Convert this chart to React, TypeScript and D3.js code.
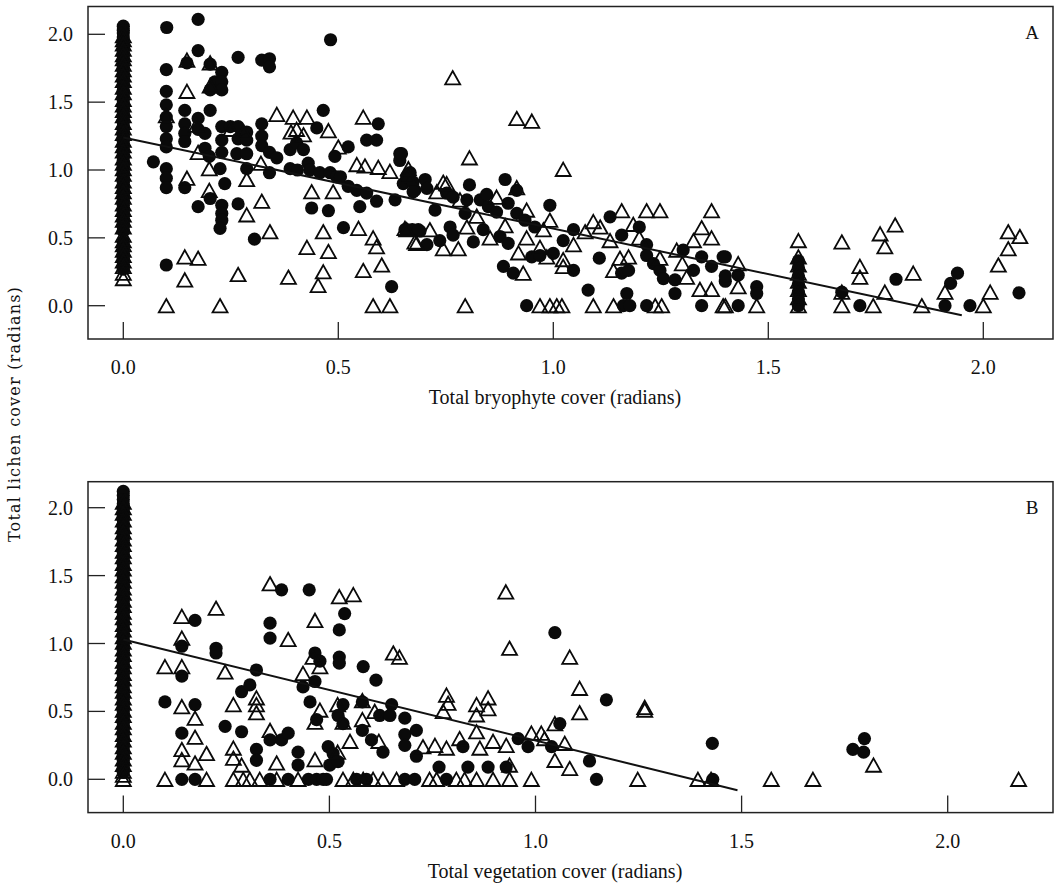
import React from "react";
import * as d3 from "d3";

// tick values shared by both panels
const tickValues = [0, 0.5, 1.0, 1.5, 2.0];

// ---- Panel A: lichen vs bryophyte cover ----
const bryoCircles: [number, number][] = [
  [0.101, 2.05], [0.174, 2.11], [0.482, 1.96], [0.174, 1.88], [0.10, 1.74], [0.267, 1.83], [0.322, 1.81], [0.34, 1.82], [0.34, 1.76],
  [0.229, 1.72], [0.213, 1.65], [0.229, 1.65], [0.202, 1.59], [0.229, 1.59], [0.148, 1.79], [0.202, 1.78],
  [0.10, 1.58], [0.10, 1.48], [0.10, 1.39], [0.10, 1.32], [0.10, 1.23], [0.10, 1.17], [0.10, 1.01], [0.10, 0.94], [0.10, 0.87], [0.07, 1.06],
  [0.143, 1.44], [0.143, 1.34], [0.143, 1.27], [0.143, 1.21], [0.143, 0.87], [0.174, 1.38], [0.174, 1.30],
  [0.202, 1.44], [0.19, 1.27], [0.19, 1.16], [0.2, 1.1], [0.229, 1.32], [0.229, 1.22], [0.229, 1.13], [0.225, 1.01], [0.236, 0.90],
  [0.174, 0.73], [0.202, 0.79], [0.229, 0.74], [0.229, 0.68], [0.229, 0.63], [0.225, 0.57], [0.267, 0.75], [0.10, 0.30], [0.305, 0.49],
  [0.249, 1.32], [0.267, 1.32], [0.267, 1.23], [0.287, 1.28], [0.287, 1.22], [0.264, 1.12], [0.287, 1.12], [0.287, 1.01],
  [0.322, 1.34], [0.322, 1.25], [0.322, 1.18], [0.34, 1.13], [0.34, 0.98],
  [0.357, 1.09], [0.388, 1.15], [0.403, 1.20], [0.419, 1.15], [0.388, 1.01], [0.405, 1.0], [0.43, 1.05], [0.434, 1.0], [0.45, 1.31], [0.465, 1.44], [0.457, 0.98],
  [0.438, 0.72], [0.477, 0.70], [0.512, 0.575], [0.523, 1.17], [0.492, 1.10], [0.481, 0.98], [0.496, 0.95], [0.505, 0.95], [0.523, 0.88], [0.543, 0.85],
  [0.566, 1.22], [0.589, 1.22], [0.593, 1.34], [0.643, 1.12], [0.643, 1.07], [0.624, 0.14],
  [0.566, 0.83], [0.55, 0.73], [0.589, 0.77], [0.632, 0.78], [0.651, 0.90], [0.667, 0.98], [0.678, 0.85], [0.655, 0.56], [0.672, 0.56], [0.69, 0.55],
  [0.647, 1.12], [0.659, 0.95], [0.674, 0.91], [0.702, 0.93], [0.706, 0.865], [0.674, 0.84], [0.725, 0.705],
  [0.752, 0.83], [0.767, 0.80], [0.805, 0.89], [0.799, 0.78], [0.795, 0.68], [0.83, 0.78], [0.845, 0.82], [0.849, 0.73], [0.868, 0.69],
  [0.888, 0.93], [0.915, 0.85], [0.895, 0.755], [0.915, 0.68], [0.934, 0.63], [0.957, 0.58], [0.992, 0.74],
  [0.659, 0.56], [0.686, 0.56], [0.706, 0.45], [0.736, 0.48], [0.76, 0.58], [0.767, 0.52], [0.814, 0.47], [0.837, 0.56], [0.876, 0.51], [0.895, 0.46],
  [0.884, 0.29], [0.907, 0.24], [0.95, 0.36], [0.969, 0.37], [1.0, 0.385], [1.047, 0.26], [1.023, 0.48], [1.047, 0.56],
  [0.938, 0.0], [1.081, 0.115], [1.132, 0.655], [1.159, 0.52], [1.107, 0.35],
  [1.2, 0.58], [1.217, 0.45], [1.217, 0.37], [1.233, 0.31], [1.248, 0.26], [1.256, 0.20],
  [1.159, 0.24], [1.175, 0.26], [1.171, 0.09], [1.163, 0.0], [1.178, 0.0], [1.217, 0.0],
  [1.283, 0.19], [1.283, 0.09], [1.302, 0.41], [1.326, 0.26], [1.345, 0.36], [1.368, 0.29], [1.395, 0.36], [1.40, 0.18], [1.345, 0.0],
  [1.40, 0.36], [1.43, 0.225], [1.40, 0.22], [1.43, 0.0], [1.473, 0.14], [1.473, 0.09],
  [1.57, 0.33], [1.57, 0.28], [1.57, 0.22], [1.57, 0.16], [1.57, 0.10], [1.57, 0.05], [1.57, 0.0],
  [1.713, 0.0], [1.671, 0.10], [1.797, 0.195], [1.911, 0.0], [1.924, 0.165], [1.94, 0.24], [1.969, 0.0], [2.083, 0.095],
];

const bryoTriangles: [number, number][] = [
  [0.148, 1.81], [0.202, 1.79], [0.202, 1.62], [0.148, 1.58], [0.10, 1.40], [0.17, 1.33], [0.174, 1.13], [0.2, 1.01], [0.148, 0.94], [0.2, 0.85],
  [0.357, 1.41], [0.395, 1.39], [0.427, 1.39], [0.39, 1.28], [0.403, 1.30], [0.419, 1.26], [0.477, 1.29], [0.558, 1.39], [0.25, 1.30], [0.28, 1.28],
  [0.287, 0.93], [0.322, 0.77], [0.287, 0.67], [0.341, 0.545], [0.267, 0.23], [0.143, 0.36], [0.174, 0.35], [0.143, 0.19], [0.10, 0.0], [0.225, 0.0],
  [0.384, 0.21], [0.427, 0.43], [0.465, 0.545], [0.477, 0.40], [0.465, 0.25], [0.453, 0.15],
  [0.438, 0.84], [0.488, 0.84], [0.547, 0.57], [0.581, 0.50], [0.589, 0.435], [0.558, 0.26], [0.601, 0.30], [0.581, 0.0], [0.62, 0.0],
  [0.655, 0.57], [0.678, 0.47], [0.543, 1.04], [0.562, 1.03], [0.593, 1.02], [0.62, 0.99], [0.66, 0.96], [0.5, 1.17], [0.32, 1.05],
  [0.766, 1.68], [0.915, 1.38], [0.95, 1.36], [0.805, 1.09], [1.023, 1.005], [0.744, 0.91],
  [0.795, 0.0], [0.969, 0.0], [0.992, 0.0], [1.008, 0.0], [1.02, 0.0], [1.093, 0.0], [1.14, 0.0], [1.237, 0.0], [1.252, 0.0], [1.395, 0.0],
  [1.159, 0.70], [1.217, 0.70], [1.248, 0.70], [1.368, 0.70], [1.345, 0.575], [1.368, 0.50], [1.326, 0.48],
  [1.093, 0.62], [1.109, 0.58], [1.074, 0.545], [1.132, 0.48], [1.186, 0.60], [1.2, 0.50],
  [1.155, 0.35], [1.175, 0.36], [1.14, 0.26], [1.248, 0.35], [1.287, 0.41], [1.30, 0.31], [1.341, 0.12], [1.368, 0.12], [1.31, 0.21],
  [1.023, 0.34], [1.023, 0.29], [0.93, 0.24], [0.919, 0.39], [0.938, 0.50], [0.969, 0.43], [0.985, 0.36], [0.992, 0.63], [0.977, 0.56], [1.047, 0.45], [0.938, 0.705],
  [0.868, 0.80], [0.888, 0.59], [0.853, 0.50], [0.822, 0.66], [0.799, 0.58], [0.779, 0.42], [0.744, 0.42], [0.713, 0.56], [0.682, 0.46], [0.659, 0.56],
  [0.729, 0.84], [0.752, 0.90], [0.783, 0.78], [0.663, 1.01], [0.915, 0.87],
  [1.57, 0.48], [1.671, 0.47], [1.76, 0.53], [1.795, 0.595], [1.771, 0.435], [1.713, 0.29], [1.713, 0.21], [1.837, 0.24], [1.771, 0.10],
  [1.43, 0.31], [1.43, 0.14], [1.40, 0.0], [1.473, 0.0], [1.671, 0.0], [1.744, 0.0], [1.857, 0.0], [1.911, 0.10], [2.0, 0.0], [2.016, 0.10],
  [2.035, 0.30], [2.058, 0.42], [2.058, 0.545], [2.085, 0.51], [1.671, 0.10],
  [1.57, 0.36], [1.57, 0.30], [1.57, 0.24], [1.57, 0.18], [1.57, 0.12], [1.57, 0.06], [1.57, 0.0],
];

// samples with zero bryophyte cover (stacked at x = 0)
const bryoZeroCircles = [
  2.06, 2.03, 2.01, 1.98, 1.95, 1.92, 1.90, 1.87, 1.84, 1.81, 1.79, 1.76, 1.73, 1.70, 1.68, 1.65, 1.62, 1.59, 1.57, 1.54, 1.51, 1.48,
  1.46, 1.43, 1.40, 1.37, 1.35, 1.32, 1.29, 1.26, 1.24, 1.21, 1.18, 1.15, 1.13, 1.10, 1.07, 1.04, 1.02, 0.99, 0.96, 0.93, 0.91, 0.88,
  0.85, 0.82, 0.80, 0.77, 0.74, 0.71, 0.69, 0.66, 0.63, 0.60, 0.58, 0.55, 0.47, 0.44, 0.41, 0.38, 0.35, 0.32, 0.29, 0.27,
];
const bryoZeroTriangles = [
  1.99, 1.96, 1.93, 1.89, 1.85, 1.82, 1.78, 1.74, 1.70, 1.66, 1.61, 1.57, 1.52, 1.48, 1.44, 1.40, 1.35, 1.31, 1.27, 1.22, 1.18, 1.14,
  1.09, 1.05, 1.01, 0.97, 0.92, 0.88, 0.84, 0.80, 0.75, 0.71, 0.67, 0.63, 0.58, 0.52, 0.48, 0.45, 0.41, 0.37, 0.33, 0.29, 0.24, 0.20,
];
const bryoFit: [number, number][] = [[0, 1.24], [1.95, -0.07]];

// ---- Panel B: lichen vs vegetation cover ----
const vegCircles: [number, number][] = [
  [0.174, 1.17], [0.142, 0.98], [0.225, 0.965], [0.225, 0.93], [0.142, 0.76], [0.101, 0.57], [0.174, 0.55], [0.142, 0.34], [0.247, 0.39], [0.287, 0.35],
  [0.142, 0.0], [0.174, 0.0], [0.323, 0.805], [0.287, 0.645], [0.307, 0.695], [0.384, 1.395], [0.451, 1.395], [0.356, 1.15], [0.356, 1.04],
  [0.537, 1.22], [0.524, 1.10], [0.524, 0.90], [0.524, 0.855], [0.465, 0.93], [0.477, 0.87], [0.582, 0.83], [0.613, 0.73],
  [0.436, 0.68], [0.453, 0.57], [0.465, 0.72], [0.469, 0.44],
  [0.323, 0.22], [0.323, 0.14], [0.356, 0.29], [0.384, 0.29], [0.40, 0.34], [0.424, 0.20], [0.424, 0.105],
  [0.497, 0.24], [0.509, 0.19], [0.501, 0.105], [0.521, 0.13], [0.533, 0.55], [0.521, 0.47], [0.533, 0.41],
  [0.58, 0.57], [0.58, 0.36], [0.602, 0.29], [0.63, 0.20], [0.622, 0.47], [0.651, 0.55], [0.647, 0.47],
  [0.683, 0.45], [0.683, 0.33], [0.683, 0.25], [0.711, 0.36], [0.711, 0.17],
  [0.356, 0.0], [0.40, 0.0], [0.449, 0.0], [0.469, 0.0], [0.485, 0.0], [0.493, 0.0], [0.566, 0.0], [0.59, 0.0], [0.683, 0.0], [0.707, 0.0],
  [1.047, 1.08], [1.172, 0.585], [1.059, 0.41], [1.429, 0.265],
  [0.766, 0.09], [0.824, 0.24], [0.836, 0.09], [0.885, 0.09], [0.929, 0.09], [0.958, 0.30], [0.982, 0.24], [1.039, 0.24], [1.131, 0.135],
  [1.148, 0.0], [1.43, 0.0], [0.784, 0.0], [1.798, 0.30], [1.77, 0.22], [1.796, 0.20],
];

const vegTriangles: [number, number][] = [
  [0.142, 1.20], [0.225, 1.26], [0.142, 1.04], [0.142, 0.83], [0.101, 0.83], [0.247, 0.79], [0.356, 1.44], [0.40, 1.03], [0.465, 1.17],
  [0.524, 1.345], [0.558, 1.36], [0.655, 0.93], [0.436, 0.78], [0.477, 0.83], [0.46, 0.90],
  [0.142, 0.535], [0.174, 0.45], [0.174, 0.31], [0.142, 0.22], [0.142, 0.145], [0.174, 0.12], [0.202, 0.19],
  [0.267, 0.55], [0.267, 0.23], [0.267, 0.155], [0.287, 0.105], [0.323, 0.60], [0.323, 0.55], [0.323, 0.49], [0.356, 0.36], [0.372, 0.12],
  [0.465, 0.145], [0.477, 0.51], [0.465, 0.42], [0.52, 0.55], [0.533, 0.42], [0.52, 0.20], [0.58, 0.58], [0.58, 0.44], [0.55, 0.28], [0.61, 0.50], [0.62, 0.28],
  [0.101, 0.0], [0.202, 0.0], [0.267, 0.0], [0.291, 0.0], [0.307, 0.0], [0.331, 0.0], [0.372, 0.0], [0.424, 0.0], [0.533, 0.0], [0.558, 0.0],
  [0.582, 0.0], [0.606, 0.0], [0.63, 0.0], [0.663, 0.0],
  [0.928, 1.38], [0.937, 0.965], [1.083, 0.90], [1.107, 0.67], [1.107, 0.49], [1.265, 0.53], [1.265, 0.51], [1.047, 0.41],
  [0.784, 0.62], [0.788, 0.56], [0.776, 0.50], [0.857, 0.55], [0.885, 0.60], [0.885, 0.52], [0.857, 0.475], [0.857, 0.35],
  [0.816, 0.30], [0.756, 0.25], [0.784, 0.23], [0.727, 0.24], [0.865, 0.23], [0.897, 0.28], [0.929, 0.25], [0.937, 0.105],
  [0.99, 0.34], [1.014, 0.34], [1.022, 0.30], [1.071, 0.265], [1.047, 0.14], [1.083, 0.08],
  [0.743, 0.0], [0.76, 0.0], [0.808, 0.0], [0.828, 0.0], [0.857, 0.0], [0.897, 0.0], [0.937, 0.0], [0.99, 0.0], [1.248, 0.0], [1.394, 0.0], [1.426, 0.0],
  [0.67, 0.90], [1.82, 0.105], [1.572, 0.0], [1.673, 0.0], [2.172, 0.0],
];

const vegZeroCircles = [
  2.12, 2.09, 2.06, 2.03, 2.00, 1.97, 1.94, 1.91, 1.88, 1.85, 1.82, 1.79, 1.76, 1.73, 1.70, 1.67, 1.64, 1.61, 1.58, 1.55, 1.52, 1.49,
  1.46, 1.43, 1.40, 1.37, 1.34, 1.31, 1.28, 1.25, 1.22, 1.19, 1.16, 1.13, 1.10, 1.07, 1.04, 1.01, 0.98, 0.95, 0.92, 0.89, 0.86, 0.83,
  0.80, 0.77, 0.74, 0.71, 0.68, 0.65, 0.62, 0.59, 0.56, 0.53, 0.50, 0.47, 0.44, 0.41, 0.38, 0.35, 0.32, 0.29, 0.26, 0.23, 0.20, 0.17,
  0.14, 0.11, 0.08, 0.05,
];
const vegZeroTriangles = [
  2.04, 2.00, 1.96, 1.91, 1.86, 1.82, 1.77, 1.73, 1.68, 1.64, 1.59, 1.55, 1.50, 1.46, 1.41, 1.37, 1.32, 1.28, 1.23, 1.19, 1.14, 1.10,
  1.05, 1.01, 0.96, 0.92, 0.87, 0.83, 0.78, 0.74, 0.69, 0.65, 0.60, 0.56, 0.51, 0.47, 0.42, 0.38, 0.33, 0.29, 0.24, 0.20, 0.15, 0.11,
  0.06, 0.03, 0.0,
];
const vegFit: [number, number][] = [[0, 1.03], [1.49, -0.08]];

const SERIF = "'Liberation Serif', 'Times New Roman', serif";
const FRAME_LEFT = 88;
const FRAME_RIGHT = 1053;
const fmt = d3.format(".1f");

function Panel({ top, bottom, xRange, yRange, circles, triangles, zeroCircles, zeroTriangles, fit, letter, xTitle }: any) {
  const x = d3.scaleLinear().domain([0, 2]).range(xRange);
  const y = d3.scaleLinear().domain([0, 2]).range(yRange);
  const line = d3.line();
  const tri = "M0,-6.7L7.5,6.7L-7.5,6.7Z";

  const allCircles = [...zeroCircles.map((v: number) => [0, v]), ...circles];
  const allTriangles = [...zeroTriangles.map((v: number) => [0, v]), ...triangles];

  return (
    <g>
      {allCircles.map((d: number[], i: number) => (
        <circle key={"c" + i} cx={x(d[0])} cy={y(d[1])} r={6.6} fill="#0a0a0a" />
      ))}
      {allTriangles.map((d: number[], i: number) => (
        <path key={"t" + i} d={tri} transform={`translate(${x(d[0])},${y(d[1])})`} fill="none" stroke="#0a0a0a" strokeWidth={1.8} />
      ))}
      <path d={line(fit.map((p: number[]) => [x(p[0]), y(p[1])]) as any) || ""} stroke="#111" strokeWidth={2} fill="none" />
      <rect x={FRAME_LEFT} y={top} width={FRAME_RIGHT - FRAME_LEFT} height={bottom - top} fill="none" stroke="#222" strokeWidth={1.5} />
      {tickValues.map((t) => (
        <g key={"y" + t}>
          <line x1={FRAME_LEFT} x2={FRAME_LEFT + 17} y1={y(t)} y2={y(t)} stroke="#222" strokeWidth={1.3} />
          <text x={73} y={y(t)} textAnchor="end" dominantBaseline="central" fontFamily={SERIF} fontSize={20} fill="#111">
            {fmt(t)}
          </text>
        </g>
      ))}
      {tickValues.map((t) => (
        <g key={"x" + t}>
          <line x1={x(t)} x2={x(t)} y1={bottom} y2={bottom - 17} stroke="#222" strokeWidth={1.3} />
          <text x={x(t)} y={bottom + 28} textAnchor="middle" dominantBaseline="central" fontFamily={SERIF} fontSize={20} fill="#111">
            {fmt(t)}
          </text>
        </g>
      ))}
      <text x={555} y={bottom + 58} textAnchor="middle" dominantBaseline="central" fontFamily={SERIF} fontSize={20} fill="#111">
        {xTitle}
      </text>
      <text x={1032} y={top + 26} textAnchor="middle" dominantBaseline="central" fontFamily={SERIF} fontSize={19} fill="#111">
        {letter}
      </text>
    </g>
  );
}

export default function App() {
  return (
    <svg width={1055} height={884} style={{ position: "absolute", left: 0, top: 0, background: "#fff" }}>
      <rect width={1055} height={884} fill="#fff" />
      <Panel
        top={6.5}
        bottom={339}
        xRange={[123.3, 983.3]}
        yRange={[305.7, 34.3]}
        circles={bryoCircles}
        triangles={bryoTriangles}
        zeroCircles={bryoZeroCircles}
        zeroTriangles={bryoZeroTriangles}
        fit={bryoFit}
        letter="A"
        xTitle="Total bryophyte cover (radians)"
      />
      <Panel
        top={481.7}
        bottom={812.6}
        xRange={[123.3, 947.7]}
        yRange={[779.3, 507.7]}
        circles={vegCircles}
        triangles={vegTriangles}
        zeroCircles={vegZeroCircles}
        zeroTriangles={vegZeroTriangles}
        fit={vegFit}
        letter="B"
        xTitle="Total vegetation cover (radians)"
      />
      <text
        transform="translate(20,414) rotate(-90)"
        textAnchor="middle"
        fontFamily="'DejaVu Serif', serif"
        fontSize={16}
        letterSpacing={1.2}
        fill="#111"
      >
        Total lichen cover (radians)
      </text>
    </svg>
  );
}
